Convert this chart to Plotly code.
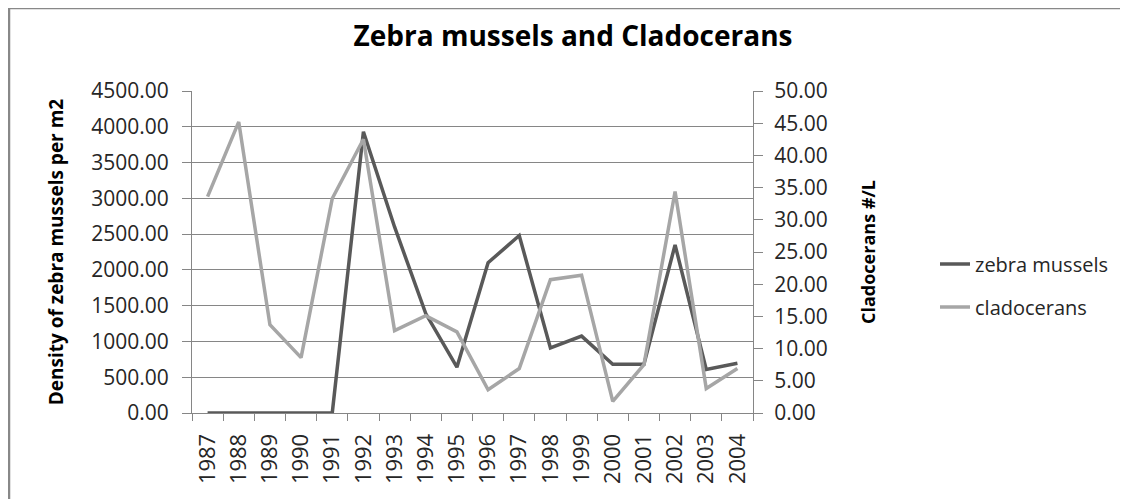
import plotly.graph_objects as go

years = [str(y) for y in range(1987, 2005)]
zebra_mussels = [0, 0, 0, 0, 0, 3930, 2600, 1390, 640, 2100, 2480, 910, 1075, 680, 680, 2350, 610, 695]
cladocerans = [33.6, 45.2, 13.7, 8.6, 33.3, 42.5, 12.8, 15.1, 12.6, 3.6, 6.9, 20.7, 21.4, 1.8, 7.5, 34.4, 3.8, 6.9]

# page body has an 8px margin; figure coordinates are page coordinates minus 8
O = 8
W, H = 1128 - O, 499 - O
L, R, T, B = 192 - O, 753 - O, 91 - O, 413 - O
FONT = "Open Sans"
AX = "#868686"

fig = go.Figure()
fig.add_trace(go.Scatter(x=years, y=zebra_mussels, name="zebra mussels", mode="lines",
                         line=dict(color="#595959", width=3.5), yaxis="y", legendgroup="a"))
fig.add_trace(go.Scatter(x=years, y=cladocerans, name="cladocerans", mode="lines",
                         line=dict(color="#A6A6A6", width=3.5), yaxis="y2", legendgroup="b"))

pw, ph = R - L, B - T
def px(x):  # page pixel -> paper
    return (x - O - L) / pw
def py(y):
    return (B - (y - O)) / ph

fig.update_layout(
    width=W, height=H,
    margin=dict(l=L, r=W - R, t=T, b=H - B, autoexpand=False),
    paper_bgcolor="white", plot_bgcolor="white",
    font=dict(family=FONT, size=20, color="#262626"),
    title=dict(text="<b>Zebra mussels and Cladocerans</b>", x=px(573), xref="paper", xanchor="center",
               y=1 - (36 - O) / H, yanchor="middle", font=dict(size=28, color="#000000")),
    xaxis=dict(type="category", range=[-0.5, 17.5], showgrid=False, showline=True, linecolor=AX,
               linewidth=1, ticks="outside", tickson="boundaries", ticklen=7, tickcolor=AX,
               tickangle=-90, tickfont=dict(size=22), zeroline=False, automargin=False,
               ticklabelstandoff=11),
    yaxis=dict(range=[0, 4500], dtick=500, tickformat=".2f", showgrid=True, gridcolor=AX, gridwidth=1,
               showline=True, linecolor=AX, ticks="outside", ticklen=9, tickcolor=AX,
               zeroline=False, tickfont=dict(size=21), automargin=False, ticklabelstandoff=9,
               title=dict(text="<b>Density of zebra mussels per m2</b>", font=dict(size=19, color="#000000"),
                          standoff=22)),
    yaxis2=dict(range=[0, 50], dtick=5, tickformat=".2f", overlaying="y", side="right", showgrid=False,
                showline=True, linecolor=AX, ticks="outside", ticklen=9, tickcolor=AX, zeroline=False,
                tickfont=dict(size=21), automargin=False, ticklabelstandoff=7,
                title=dict(text="<b>Cladocerans #/L</b>", font=dict(size=18, color="#000000"), standoff=35)),
    legend=dict(x=px(935), y=py(285.5), xanchor="left", yanchor="middle", traceorder="grouped",
                tracegroupgap=14, font=dict(size=20), bgcolor="rgba(0,0,0,0)"),
    showlegend=True,
)

# chart outer border (Excel chart area)
fig.add_shape(type="rect", xref="paper", yref="paper",
              x0=px(9), x1=px(1128 + 20), y0=py(499 + 20), y1=py(8),
              line=dict(color="#888888", width=2.5), fillcolor="rgba(0,0,0,0)", layer="below")

fig.write_html("out.html")
